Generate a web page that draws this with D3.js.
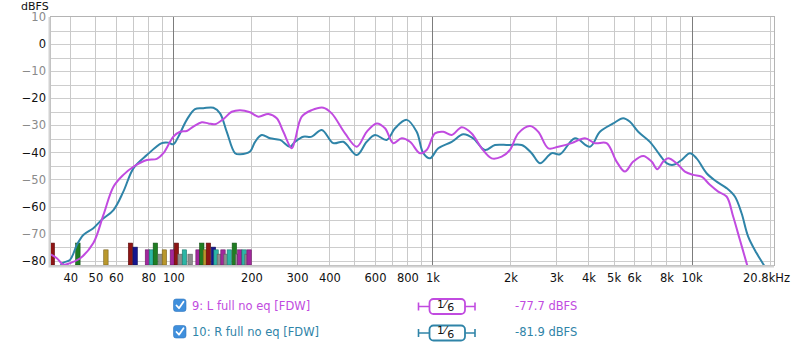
<!DOCTYPE html>
<html>
<head>
<meta charset="utf-8">
<script src="https://cdn.jsdelivr.net/npm/d3@7"></script>
<style>
  body { margin: 0; background: #fff; }
  text { font-family: "DejaVu Sans", sans-serif; }
</style>
</head>
<body>
<script>

  // frequency response, 1/6 octave smoothed
  const leftFreq = [33.4, 35.5, 37.6, 39.9, 43.7, 49.1, 53.7, 58.7, 64.1, 70.1, 79.0, 86.3, 91.5, 100, 106.1, 112.6, 119.4, 128.7, 136.5, 144.8, 155.9, 168.0, 180.9, 197.6, 212.8, 232.6, 250.6, 265.7, 286.3, 294.8, 312.9, 342.0, 379.1, 408.4, 459.7, 510.2, 557.3, 609.2, 655.7, 706.1, 760.7, 818.9, 894.6, 949.7, 1022, 1101, 1186, 1297, 1417, 1548, 1692, 1849, 1991, 2143, 2378, 2560, 2799, 3059, 3444, 3876, 4236, 4699, 5136, 5529, 5953, 6507, 7011, 7368, 7771, 8122, 8751, 9422, 10143, 10929, 11766, 12667, 13646, 14470, 15360, 16303, 16788];
  const leftDb = [-77.6, -79.1, -81.5, -80.9, -79.1, -73.5, -63.1, -52.7, -48.3, -45.3, -42.8, -42.4, -40.3, -34.2, -32.4, -32.1, -30.5, -28.9, -29.3, -29.6, -27.7, -25.0, -24.4, -25.2, -26.8, -25.8, -27.4, -32.4, -38.5, -35.4, -26.8, -24.4, -23.5, -25.6, -33.0, -37.9, -32.4, -29.3, -31.1, -36.6, -34.8, -36.1, -40.3, -39.1, -33.0, -32.4, -33.6, -30.7, -33.0, -38.5, -42.2, -41.6, -39.1, -33.0, -30.3, -32.4, -38.5, -37.9, -36.6, -34.8, -36.6, -36.6, -43.4, -47.1, -43.4, -41.3, -43.4, -46.2, -43.4, -42.2, -44.0, -47.1, -48.3, -49.0, -52.0, -54.5, -56.3, -63.7, -72.3, -80.9, -85.2];

  const rightFreq = [33.4, 35.9, 37.5, 39.9, 42.4, 44.9, 49.1, 52.9, 58.7, 64.1, 70.1, 79.0, 90.2, 95.6, 100, 104.5, 112.6, 121.2, 130.5, 142.7, 151.4, 160.7, 173.0, 180.9, 197.6, 206.7, 219.3, 236.1, 258.0, 282.0, 294.8, 317.3, 342.0, 373.8, 414.4, 452.9, 510.2, 557.3, 600.1, 665.8, 716.9, 795.1, 869.0, 921.5, 978.1, 1053, 1186, 1315, 1437, 1594, 1742, 1961, 2209, 2414, 2598, 2884, 3104, 3546, 4052, 4429, 4983, 5446, 5780, 6223, 6904, 7547, 8008, 8492, 9150, 9849, 10454, 11427, 12490, 13646, 14692, 15594, 16536, 17813, 18890, 19700];
  const rightDb = [-85.5, -83.0, -80.8, -79.7, -74.2, -70.5, -68.0, -64.9, -61.3, -54.5, -45.9, -41.0, -36.6, -36.4, -37.0, -34.2, -28.0, -24.0, -23.7, -23.5, -25.6, -32.4, -40.3, -40.7, -39.7, -36.1, -33.6, -34.8, -35.4, -37.9, -36.1, -34.2, -34.2, -31.7, -36.6, -36.1, -41.0, -36.1, -33.6, -35.4, -31.1, -28.0, -32.4, -40.3, -42.2, -38.5, -36.1, -33.3, -34.8, -39.1, -37.3, -37.3, -37.3, -40.3, -44.0, -40.3, -40.7, -34.8, -37.9, -32.4, -29.3, -27.4, -28.7, -32.4, -36.1, -41.0, -44.0, -44.6, -42.8, -40.3, -42.2, -47.7, -50.8, -53.2, -56.3, -62.5, -71.1, -77.2, -81.2, -84.0];

  // little marker bars along the bottom
  const barFreq = [34.1, 42.8, 54.9, 68.3, 71.2, 79.4, 82.2, 85.2, 89.4, 92.3, 99.1, 102.7, 106.1, 110.3, 116, 124.5, 128.7, 132.9, 136.5, 142.7, 146.1, 150.4, 155.4, 159.7, 164.4, 171.9, 177.2, 180.4, 187.4, 192.5, 196];
  const barDb = [-73.5, -73.5, -76, -73.5, -75, -76, -76, -73.5, -77.6, -76, -76, -73.5, -77.6, -76, -77.6, -76, -73.5, -76, -73.5, -75, -76, -77.6, -76, -77.6, -76, -73.5, -77.6, -76, -76, -77.6, -76];
  const barColor = ['red', 'green', 'gold', 'red', 'navy', 'mag', 'teal', 'green', 'gray', 'gold', 'mag', 'red', 'gray', 'teal', 'gray', 'mag', 'green', 'gold', 'red', 'navy', 'teal', 'gray', 'mag', 'gray', 'teal', 'green', 'gray', 'mag', 'teal', 'gray', 'mag'];

  const yTicks = [10, 0, -10, -20, -30, -40, -50, -60, -70, -80];
  const xTicks = [40, 50, 60, 80, 100, 200, 300, 400, 600, 800, 1000, 2000, 3000, 4000, 5000, 6000, 8000, 10000];
  const xTickLabels = ['40', '50', '60', '80', '100', '200', '300', '400', '600', '800', '1k', '2k', '3k', '4k', '5k', '6k', '8k', '10k'];

  const seriesNames = ['9: L full no eq [FDW]', '10: R full no eq [FDW]'];
  const seriesValues = ['-77.7 dBFS', '-81.9 dBFS'];

  const colors = {L: '#c14be0', R: '#2f84a8'};
  const barPalette = {red: '#8e1515', green: '#1f7d22', gold: '#b9972c', navy: '#15168e',
                      mag: '#a2279c', teal: '#2cb6a6', gray: '#8e8e8e'};

  const margin = { top: 17, right: 26, bottom: 87, left: 51 },
        width = 800 - margin.left - margin.right,
        height = 352 - margin.top - margin.bottom;

  const x = d3.scaleLog()
    .domain([33.7, 20800])
    .range([0, width]);

  const y = d3.scaleLinear()
    .domain([-81.6, 10])
    .range([height, 0]);

  const svg = d3.select('body')
    .append('svg')
      .attr('width', 800)
      .attr('height', 352)
    .append('g')
      .attr('transform', `translate(${margin.left}, ${margin.top})`);

  svg.append('rect')
    .attr('width', width)
    .attr('height', height)
    .attr('fill', '#fff');

  // grid: every 5 dB, and 1-9 per decade
  const hLines = d3.range(-80, 10, 5);
  svg.selectAll('.hgrid')
    .data(hLines)
    .enter().append('line')
      .attr('x1', 0).attr('x2', width)
      .attr('y1', d => Math.round(y(d)) + 0.5)
      .attr('y2', d => Math.round(y(d)) + 0.5)
      .attr('stroke', '#cdcdcd');

  const vLines = [];
  [10, 100, 1000, 10000].forEach(dec => {
    for (let k = 1; k < 10; k++) {
      const f = dec * k;
      if (f > 33.7 && f < 20800) vLines.push(f);
    }
  });
  const major = f => f === 100 || f === 1000 || f === 10000;
  svg.selectAll('.vgrid')
    .data(vLines)
    .enter().append('line')
      .attr('x1', d => Math.round(x(d)) + 0.5)
      .attr('x2', d => Math.round(x(d)) + 0.5)
      .attr('y1', 0).attr('y2', height)
      .attr('stroke', d => major(d) ? '#7c7c7c' : '#c9c9c9');

  // bars
  const bars = barFreq.map((f, i) => ({f: f, db: barDb[i], c: barPalette[barColor[i]]}));
  svg.selectAll('.bar')
    .data(bars)
    .enter().append('rect')
      .attr('x', d => x(d.f) - 2.2)
      .attr('width', 4.4)
      .attr('y', d => y(d.db))
      .attr('height', d => height - y(d.db))
      .attr('fill', d => d.c)
      .attr('stroke', d => d3.color(d.c).darker(1.2))
      .attr('stroke-width', 0.6);

  // curves
  svg.append('clipPath')
    .attr('id', 'plot-clip')
    .append('rect')
      .attr('width', width)
      .attr('height', height);

  const line = d3.line()
    .x(d => x(d[0]))
    .y(d => y(d[1]))
    .curve(d3.curveCatmullRom.alpha(0.5));

  svg.append('path')
    .datum(rightFreq.map((f, i) => [f, rightDb[i]]))
    .attr('clip-path', 'url(#plot-clip)')
    .attr('fill', 'none')
    .attr('stroke', colors.R)
    .attr('stroke-width', 2)
    .attr('d', line);

  svg.append('path')
    .datum(leftFreq.map((f, i) => [f, leftDb[i]]))
    .attr('clip-path', 'url(#plot-clip)')
    .attr('fill', 'none')
    .attr('stroke', colors.L)
    .attr('stroke-width', 2)
    .attr('d', line);

  // frame with a little shadow on left / bottom
  svg.append('rect')
    .attr('x', -0.5).attr('y', -0.5)
    .attr('width', width + 1)
    .attr('height', height + 1)
    .attr('fill', 'none')
    .attr('stroke', '#b4b4b4');
  svg.append('path')
    .attr('d', `M-1.5,0V${height + 1.5}H${width}`)
    .attr('fill', 'none')
    .attr('stroke', '#d2d2d2')
    .attr('stroke-width', 2);

  // y axis
  const yAxis = d3.axisLeft(y)
    .tickValues(yTicks)
    .tickSize(0)
    .tickPadding(5);
  svg.append('g')
    .attr('class', 'yaxis')
    .call(yAxis)
    .call(g => g.select('.domain').remove())
    .selectAll('text')
      .style('font-size', '11.5px')
      .attr('fill', d => (d % 20 === 0) ? '#111' : '#8a8a8a');

  svg.append('text')
    .attr('x', -30)
    .attr('y', -7.5)
    .style('font-size', '11px')
    .attr('fill', '#111')
    .text('dBFS');

  // x axis
  const xAxis = d3.axisBottom(x)
    .tickValues(xTicks)
    .tickFormat((d, i) => xTickLabels[i])
    .tickSize(0)
    .tickPadding(9);
  svg.append('g')
    .attr('class', 'xaxis')
    .attr('transform', `translate(0, ${height})`)
    .call(xAxis)
    .call(g => g.select('.domain').remove())
    .selectAll('text')
      .style('font-size', '11.5px')
      .attr('fill', '#111');

  svg.append('text')
    .attr('x', width + 16)
    .attr('y', height + 17)
    .attr('text-anchor', 'end')
    .style('font-size', '11.5px')
    .attr('fill', '#111')
    .text('20.8kHz');

  // legend rows
  const legend = d3.select('svg').append('g');
  const rows = [
    {name: seriesNames[0], value: seriesValues[0], color: colors.L, y: 305},
    {name: seriesNames[1], value: seriesValues[1], color: colors.R, y: 331.5}
  ];
  rows.forEach(r => {
    const g = legend.append('g').attr('transform', `translate(0, ${r.y})`);
    // checkbox
    g.append('rect')
      .attr('x', 173.5).attr('y', -6)
      .attr('width', 12.5).attr('height', 12.5)
      .attr('rx', 2.5)
      .attr('fill', '#3f8fdc')
      .attr('stroke', '#3479c0')
      .attr('stroke-width', 0.6);
    g.append('path')
      .attr('d', 'M176.5,0.5 L179,3.2 L183.5,-3.2')
      .attr('fill', 'none')
      .attr('stroke', '#fff')
      .attr('stroke-width', 1.8)
      .attr('stroke-linecap', 'round')
      .attr('stroke-linejoin', 'round');
    g.append('text')
      .attr('x', 192)
      .attr('y', 4.5)
      .style('font-size', '11.5px')
      .attr('fill', r.color)
      .text(r.name);

    // smoothing widget
    g.append('line')
      .attr('x1', 418.5).attr('x2', 475)
      .attr('y1', 1.5).attr('y2', 1.5)
      .attr('stroke', r.color).attr('stroke-width', 1.6);
    [418.5, 475].forEach(xx => g.append('line')
      .attr('x1', xx).attr('x2', xx)
      .attr('y1', -2.5).attr('y2', 5.5)
      .attr('stroke', r.color).attr('stroke-width', 1.6));
    g.append('rect')
      .attr('x', 429.5).attr('y', -6)
      .attr('width', 35.5).attr('height', 15)
      .attr('rx', 4)
      .attr('fill', '#fff')
      .attr('stroke', r.color)
      .attr('stroke-width', 1.8);
    const fr = g.append('text')
      .attr('x', 437)
      .attr('y', 4)
      .style('font-size', '11px')
      .attr('fill', '#111');
    fr.append('tspan').attr('dy', -1.5).text('1');
    fr.append('tspan').attr('dy', 0).attr('dx', 0.5).text('⁄');
    fr.append('tspan').attr('dy', 3.5).attr('dx', 1).text('6');

    g.append('text')
      .attr('x', 515)
      .attr('y', 4.5)
      .style('font-size', '11.5px')
      .attr('fill', r.color)
      .text(r.value);
  });
</script>
</body>
</html>
